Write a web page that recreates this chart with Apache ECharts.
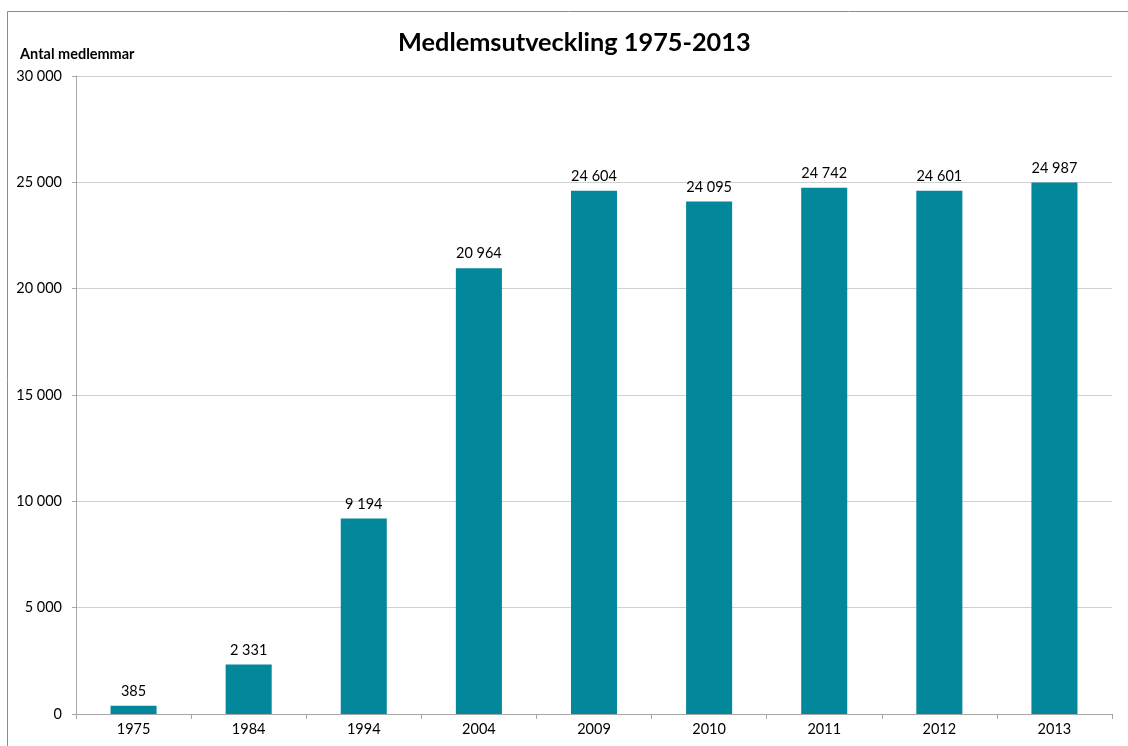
<!DOCTYPE html>
<html>
<head>
<meta charset="utf-8">
<script src="https://cdn.jsdelivr.net/npm/echarts@6/dist/echarts.min.js"></script>
<style>
html,body{margin:0;padding:0;background:#fff;}
#c{width:1128px;height:746px;}
</style>
</head>
<body>
<div id="c"></div>
<script>
const categories = ['1975','1984','1994','2004','2009','2010','2011','2012','2013'];
const members = [385, 2331, 9194, 20964, 24604, 24095, 24742, 24601, 24987];
const titleText = 'Medlemsutveckling 1975-2013';
const yAxisTitle = 'Antal medlemmar';

function fmt(v){ return String(v).replace(/\B(?=(\d{3})+(?!\d))/g, ' '); }

const chart = echarts.init(document.getElementById('c'), null, {renderer:'canvas'});
chart.setOption({
  animation:false,
  backgroundColor:'#fff',
  textStyle:{fontFamily:'Lato'},
  graphic:[{
    type:'rect', z:-1, silent:true,
    shape:{x:7.5, y:11.5, width:1140, height:760},
    style:{fill:'none', stroke:'#8c8c8c', lineWidth:1}
  }],
  title:[
    {text:titleText, left:393, top:25, itemGap:0,
     textStyle:{fontFamily:'Lato', fontSize:25.3, fontWeight:'bold', color:'#000'}},
    {text:yAxisTitle, left:15, top:42,
     textStyle:{fontFamily:'Lato', fontSize:14.5, fontWeight:'bold', color:'#000'}}
  ],
  grid:{left:76, right:16, top:76, bottom:32, containLabel:false},
  xAxis:{
    type:'category', data:categories,
    axisLine:{lineStyle:{color:'#a6a6a6'}},
    axisTick:{show:true, length:5, lineStyle:{color:'#a6a6a6'}},
    axisLabel:{color:'#000', fontSize:14.5, fontFamily:'Lato', margin:8}
  },
  yAxis:{
    type:'value', min:0, max:30000, interval:5000,
    axisLine:{show:true, lineStyle:{color:'#a6a6a6'}},
    axisTick:{show:true, length:4, lineStyle:{color:'#a6a6a6'}},
    splitLine:{lineStyle:{color:'#d0d0d0'}},
    axisLabel:{color:'#000', fontSize:14.5, fontFamily:'Lato', margin:14, formatter:fmt}
  },
  series:[{
    type:'bar', data:members, barWidth:'40%',
    itemStyle:{color:'#03879A'},
    label:{show:true, position:'top', distance:7, color:'#000', fontSize:14.5, fontFamily:'Lato',
      formatter:p=>fmt(p.value)}
  }]
});
</script>
</body>
</html>
